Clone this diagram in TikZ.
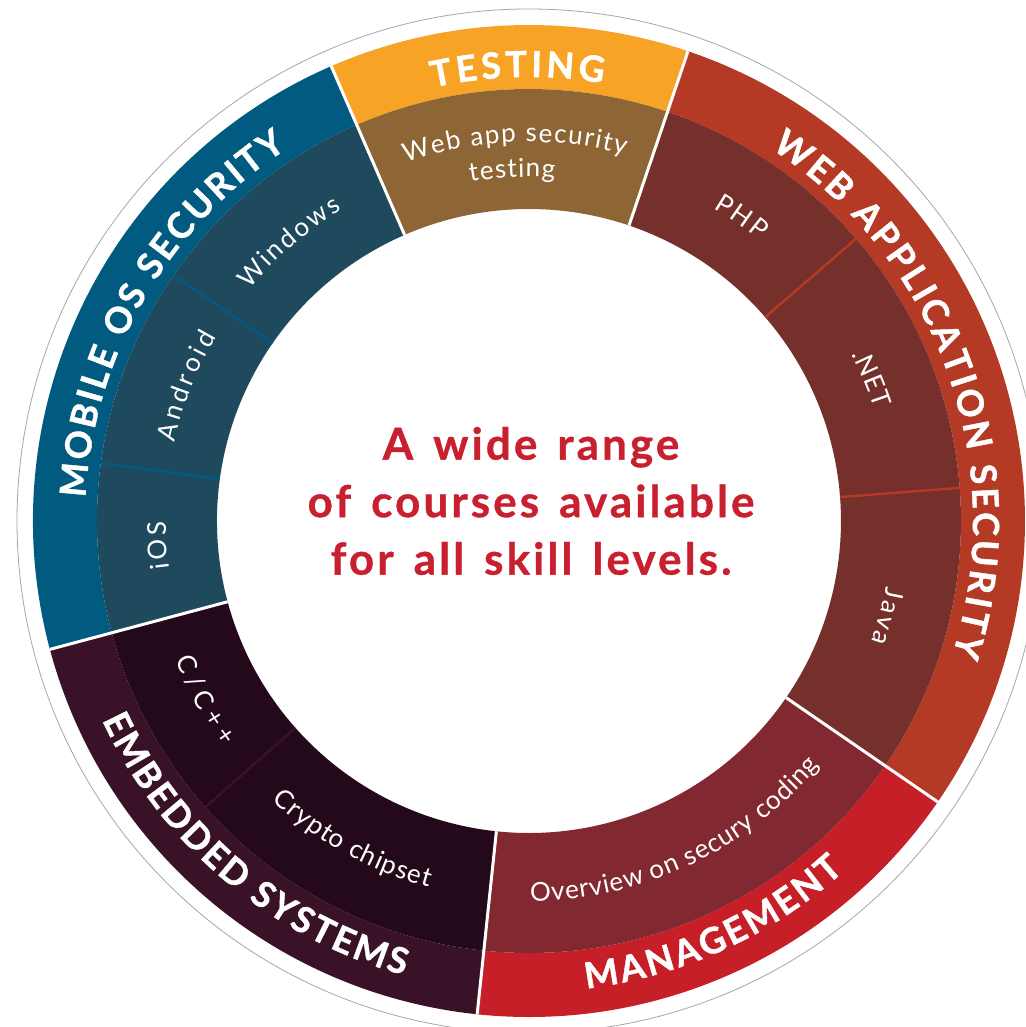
\documentclass[tikz,border=0pt]{standalone}
\usepackage{fontspec}
\setmainfont{Lato}
\newfontfamily\headfamily{Lato}[BoldFeatures={FakeBold=1.2}]
\newfontfamily\taglinefamily{Lato}[LetterSpace=7,BoldFeatures={FakeBold=0.8}]
\usepackage{tikz}
\usetikzlibrary{decorations.text}

\definecolor{mobileout}{RGB}{1,91,128}
\definecolor{mobilein}{RGB}{31,73,92}
\definecolor{testout}{RGB}{247,163,38}
\definecolor{testin}{RGB}{142,101,53}
\definecolor{webout}{RGB}{180,58,37}
\definecolor{webin}{RGB}{118,48,44}
\definecolor{mgmtout}{RGB}{198,31,40}
\definecolor{mgmtin}{RGB}{129,40,48}
\definecolor{embout}{RGB}{58,18,39}
\definecolor{embin}{RGB}{35,9,25}
\definecolor{taglinered}{RGB}{201,32,47}

\newcommand{\headfont}{\headfamily\bfseries\fontsize{36}{40}\selectfont}
\newcommand{\coursefont}{\fontsize{26}{30}\selectfont}
\newcommand{\taglinefont}{\taglinefamily\bfseries\fontsize{44}{57.5}\selectfont\spaceskip=20pt\relax}

\begin{document}
\begin{tikzpicture}[x=1pt,y=1pt,
  heading/.style={decorate,decoration={text along path,text align=fit to path,text color=white,text={|\headfont|#1}}},
  course/.style={decorate,decoration={text along path,text align=fit to path,text color=white,text={|\coursefont|#1}}},
  split/.style={white,line width=3},
  subsplit/.style={line width=2.5}]

%set diagram size: 1025 x 1027, origin at the centre of the wheel
\fill[white] (-529,-506) rectangle (496,521);
\useasboundingbox (-529,-506) rectangle (496,521);

%Shape: Ring [TESTING]
\fill[testout] (71.3:432) arc[start angle=71.3,end angle=113.5,radius=432] -- (113.5:496) arc[start angle=113.5,end angle=71.3,radius=496] -- cycle;
\fill[testin] (71.3:312) arc[start angle=71.3,end angle=113.5,radius=312] -- (113.5:432) arc[start angle=113.5,end angle=71.3,radius=432] -- cycle;

%Shape: Ring [MOBILE OS SECURITY]
\fill[mobileout] (113.5:432) arc[start angle=113.5,end angle=195,radius=432] -- (195:496) arc[start angle=195,end angle=113.5,radius=496] -- cycle;
\fill[mobilein] (113.5:312) arc[start angle=113.5,end angle=195,radius=312] -- (195:432) arc[start angle=195,end angle=113.5,radius=432] -- cycle;

%Shape: Ring [EMBEDDED SYSTEMS]
\fill[embout] (195:432) arc[start angle=195,end angle=264,radius=432] -- (264:496) arc[start angle=264,end angle=195,radius=496] -- cycle;
\fill[embin] (195:312) arc[start angle=195,end angle=264,radius=312] -- (264:432) arc[start angle=264,end angle=195,radius=432] -- cycle;

%Shape: Ring [MANAGEMENT]
\fill[mgmtout] (-96:432) arc[start angle=-96,end angle=-34.5,radius=432] -- (-34.5:496) arc[start angle=-34.5,end angle=-96,radius=496] -- cycle;
\fill[mgmtin] (-96:312) arc[start angle=-96,end angle=-34.5,radius=312] -- (-34.5:432) arc[start angle=-34.5,end angle=-96,radius=432] -- cycle;

%Shape: Ring [WEB APPLICATION SECURITY]
\fill[webout] (-34.5:432) arc[start angle=-34.5,end angle=71.3,radius=432] -- (71.3:496) arc[start angle=71.3,end angle=-34.5,radius=496] -- cycle;
\fill[webin] (-34.5:312) arc[start angle=-34.5,end angle=71.3,radius=312] -- (71.3:432) arc[start angle=71.3,end angle=-34.5,radius=432] -- cycle;

%Straight Lines [course dividers]
\draw[subsplit,mobileout] (145.3:312) -- (145.3:432);
\draw[subsplit,mobileout] (172.3:312) -- (172.3:432);
\draw[subsplit,embout] (221.5:312) -- (221.5:432);
\draw[subsplit,webout] (40.8:312) -- (40.8:432);
\draw[subsplit,webout] (4.4:312) -- (4.4:432);

%Straight Lines [group dividers]
\draw[split] (71.3:312) -- (71.3:496);
\draw[split] (113.5:312) -- (113.5:496);
\draw[split] (195:312) -- (195:496);
\draw[split] (-96:312) -- (-96:496);
\draw[split] (-34.5:312) -- (-34.5:496);

%Shape: Circle [outline]
\draw[gray!70,line width=0.8] (0,0) circle[radius=512];

% Group titles
\path[heading={TESTING}] (102.5:444) arc[start angle=102.5,end angle=80.4,radius=444];
\path[heading={MOBILE OS SECURITY}] (177:444) arc[start angle=177,end angle=123,radius=444];
\path[heading={WEB APPLICATION SECURITY}] (57:444) arc[start angle=57,end angle=-17.5,radius=444];
\path[heading={MANAGEMENT}] (-83:471) arc[start angle=-83,end angle=-48,radius=471];
\path[heading={EMBEDDED SYSTEMS}] (205:471) arc[start angle=205,end angle=254.6,radius=471];

% Course labels
\path[course={Web app security}] (109:379) arc[start angle=109,end angle=75.3,radius=379];
\path[course={testing}] (99.8:344) arc[start angle=99.8,end angle=85.7,radius=344];
\path[course={Windows}] (140.4:363) arc[start angle=140.4,end angle=121,radius=363];
\path[course={Android}] (167.5:363) arc[start angle=167.5,end angle=149.5,radius=363];
\path[course={iOS}] (187.5:363) arc[start angle=187.5,end angle=180,radius=363];
\path[course={C/C++}] (201.4:380) arc[start angle=201.4,end angle=216.4,radius=380];
\path[course={Crypto chipset}] (227.4:380) arc[start angle=227.4,end angle=254.7,radius=380];
\path[course={Overview on secury coding}] (-89.8:380) arc[start angle=-89.8,end angle=-40.1,radius=380];
\path[course={Java}] (-10.4:363) arc[start angle=-10.4,end angle=-19.4,radius=363];
\path[course={.NET}] (27.3:363) arc[start angle=27.3,end angle=18,radius=363];
\path[course={PHP}] (59.5:363) arc[start angle=59.5,end angle=50.6,radius=363];

% Text Node
\node[text=taglinered,align=center,font=\taglinefont] (tagline) at (2,20) {A wide range\\of courses available\\for all skill levels.};

\end{tikzpicture}
\end{document}
